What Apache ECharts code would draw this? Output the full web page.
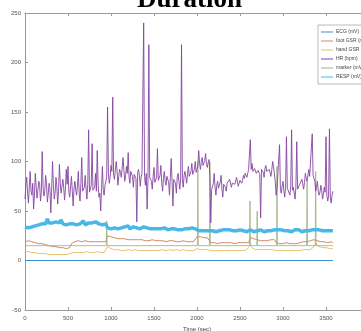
<!DOCTYPE html>
<html>
<head>
<meta charset="utf-8">
<script src="https://cdn.jsdelivr.net/npm/echarts@6/dist/echarts.min.js"></script>
<style>
  html, body { margin: 0; padding: 0; background: #fff; }
  #chart { width: 361px; height: 331px; }
</style>
</head>
<body>
<div id="chart"></div>
<script>
// signals recorded over the session, sampled every 20 s (t = 0 .. 3580)
var sampleStep = 20;
var seriesNames = ['ECG (mV)', 'foot GSR (mV)', 'hand GSR (mV)', 'HR (bpm)', 'marker (mV)', 'RESP (mV)'];
var colors = ['#3b8fd0', '#d08a6a', '#e9c06a', '#8445a0', '#9ab07a', '#48b8e8'];

// HR at t = 0, 20, 40 ...
var hr = [
  62, 84, 58, 90, 66, 52, 88, 63, 80, 60,
  110, 65, 86, 59, 78, 48, 100, 62, 84, 57,
  97, 68, 82, 61, 92, 95, 64, 85, 55, 80,
  66, 90, 60, 104, 70, 86, 62, 132, 68, 118,
  72, 88, 111, 64, 50, 95, 66, 80,
  155, 78, 96, 165, 82, 100, 76, 92, 84, 104,
  80, 95, 109, 78, 90, 74, 86, 39, 92, 75,
  88, 240, 76, 52, 218,
  84, 72, 94, 78, 113, 80, 96, 70, 90, 76,
  86, 66, 103, 55, 82, 68, 88, 72,
  218,
  74, 90, 78, 95, 84, 98, 86, 100, 92,
  111, 92, 104, 96, 108, 94, 102,
  38,
  70, 88, 66, 80, 72, 86, 64, 78, 70,
  76, 82, 74, 80, 77, 84, 75, 81, 78, 86,
  88, 84, 92,
  122,
  98, 88, 94, 86, 92, 43, 90, 84,
  96, 88, 92, 85, 100, 97,
  66,
  70, 117, 68, 80, 64, 125, 72, 66, 132, 74, 62, 120, 70,
  76, 82, 72, 88, 80, 92, 84, 128, 86,
  70, 80, 66, 76, 62, 74, 125, 60, 133, 58, 70
];
// HR at t = 10, 30, 50 ... (between the samples above)
var hrBetween = [
  76, 68, 74, 70, 78, 66, 75, 71, 77, 69,
  74, 70, 78, 67, 73, 71, 76, 68, 75, 70,
  78, 66, 74, 72, 77, 69, 75, 70, 73, 71,
  76, 68, 78, 70, 74, 72, 77, 69, 76, 71,
  74, 70, 78, 68, 73, 71, 76, 84,
  88, 84, 90, 86, 82, 92, 85, 89, 83, 91,
  86, 88, 84, 90, 85, 87, 83, 89, 86, 84,
  90, 85, 88, 80, 84,
  80, 85, 79, 84, 81, 86, 78, 83, 80, 85,
  79, 84, 80, 82, 78, 84, 80, 83,
  82, 86, 84, 88, 85, 90, 87, 92, 89, 96,
  98, 100, 96, 101, 97, 99, 85,
  72, 78, 74, 76, 73, 79, 72, 77, 74, 78,
  79, 81, 78, 80, 79, 82, 78, 80, 81, 83,
  86, 88, 94,
  92, 90, 93, 88, 91, 87, 92, 89, 93, 90, 91, 94, 92, 95, 80,
  72, 74, 72, 75, 71, 74, 73, 72, 75, 71, 73, 74, 72, 76,
  78, 80, 79, 83, 82, 85, 84, 86, 80,
  72, 70, 69, 71, 67, 69, 66, 65, 64, 66
];

var resp = [
  34, 35, 33, 35, 34, 36, 35, 37, 36, 38,
  37, 38, 37, 42, 38, 37, 38, 37, 39, 37,
  38, 41, 37, 38, 36, 38, 37, 38, 37, 38,
  36, 38, 37, 37, 40, 36, 37, 38, 37, 38,
  37, 39, 38, 37, 38, 36, 38, 37,
  33, 35, 32, 34, 33, 35, 32, 34, 33, 32,
  34, 33, 35, 32, 33, 34, 32, 33, 35, 32,
  33, 34, 32, 33, 34, 32, 33, 32, 34, 32,
  33, 32, 31, 33, 32, 31, 33, 32, 31, 32,
  33, 31, 32, 31, 33, 32, 31, 32, 31, 33,
  31, 32, 31, 30, 32, 30, 31, 30, 32, 30,
  31, 30, 31, 29, 31, 30, 29, 31, 30, 31,
  30, 31, 29, 30, 31, 30, 29, 31, 30, 30,
  31, 29, 30, 31, 30, 29, 31, 30, 30, 31,
  30, 29, 31, 30, 31, 30, 29, 31, 30, 31,
  30, 31, 29, 30, 31, 30, 31, 29, 30, 31,
  30, 31, 30, 29, 31, 30, 31, 30, 29, 31,
  30, 31, 30, 31, 29, 30, 31, 30, 31, 30,
  31, 30
];

var footGsr = [
  19, 19, 20, 19, 19, 18, 18, 18, 17, 17,
  17, 16, 16, 15, 15, 15, 14, 14, 14, 13,
  13, 13, 13, 12, 12, 13, 13, 17, 19, 19,
  19, 20, 19, 19, 19, 20, 19, 19, 19, 19,
  19, 19, 20, 19, 19, 19, 19, 19,
  25, 24, 24, 23, 23, 23, 22, 22, 22, 22,
  22, 21, 21, 22, 21, 21, 21, 21, 21, 21,
  21, 21, 20, 21, 20, 20, 21, 20, 20, 20,
  20, 20, 20, 20, 19, 20, 20, 19, 20, 20,
  19, 20, 19, 19, 20, 19, 19, 19, 19, 19,
  19, 19, 24, 24, 24, 23, 23, 23, 23, 23,
  18, 18, 18, 18, 17, 18, 18, 17, 18, 18,
  18, 17, 18, 18, 17, 18, 18, 17, 18, 18,
  18, 18, 18, 23, 22, 22, 21, 21, 21, 20,
  20, 20, 20, 20, 20, 21, 22, 21, 18, 17,
  17, 18, 17, 17, 18, 17, 17, 18, 17, 17,
  17, 18, 18, 18, 19, 19, 19, 20, 20, 21,
  21, 21, 20, 20, 19, 19, 19, 18, 18, 19,
  19, 18
];

var handGsr = [
  9, 9, 9, 8, 8, 8, 8, 8, 7, 7,
  7, 7, 7, 6, 6, 6, 6, 6, 6, 6,
  6, 6, 6, 6, 6, 7, 7, 8, 8, 8,
  8, 8, 8, 8, 8, 8, 9, 8, 8, 8,
  8, 8, 9, 8, 8, 9, 8, 9,
  14, 13, 12, 12, 11, 11, 11, 11, 10, 10,
  10, 10, 11, 10, 10, 10, 11, 10, 10, 10,
  10, 11, 10, 10, 10, 11, 10, 10, 10, 11,
  10, 10, 11, 10, 10, 10, 11, 10, 10, 10,
  11, 10, 10, 10, 11, 10, 10, 11, 10, 10,
  10, 10, 12, 12, 11, 11, 11, 11, 11, 11,
  10, 10, 10, 10, 10, 10, 10, 10, 10, 10,
  10, 10, 10, 10, 10, 10, 10, 10, 10, 10,
  10, 11, 13, 16, 13, 12, 11, 11, 11, 11,
  11, 11, 11, 11, 11, 11, 11, 11, 10, 10,
  10, 10, 10, 10, 10, 10, 10, 10, 10, 10,
  10, 10, 10, 11, 11, 11, 11, 11, 11, 12,
  14, 17, 16, 14, 13, 13, 12, 13, 12, 12,
  12, 12
];

// marker and ECG are stored sparsely
var markerTimes = [0, 945, 950, 955, 2005, 2010, 2015, 2145, 2150, 2155, 2611, 2616, 2621, 2695, 2700, 2705, 2925, 2930, 2935, 3275, 3280, 3285, 3375, 3380, 3385, 3580];
var markerValues = [15, 15, 40, 15, 15, 100, 15, 15, 100, 15, 15, 60, 15, 15, 50, 15, 15, 95, 15, 15, 80, 15, 15, 90, 15, 15];
var ecgTimes = [0, 3580];
var ecgValues = [0, 0];

function pairs(values) {
  var out = [];
  for (var i = 0; i < values.length; i++) {
    out.push([i * sampleStep, values[i]]);
  }
  return out;
}
// puts the two HR sample sets back in time order
function hrPairs() {
  var out = [];
  for (var i = 0; i < hr.length; i++) {
    out.push([i * sampleStep, hr[i]]);
    if (i < hrBetween.length) out.push([i * sampleStep + sampleStep / 2, hrBetween[i]]);
  }
  return out;
}
function zipTimes(times, values) {
  var out = [];
  for (var i = 0; i < times.length; i++) {
    out.push([times[i], values[i]]);
  }
  return out;
}

var chart = echarts.init(document.getElementById('chart'));

var axisColor = '#9a9a9a';
var labelStyle = { color: '#555', fontSize: 6, fontFamily: 'Liberation Sans' };
function plain(v) { return String(v); }

function lineSeries(name, data, color, width, z) {
  return {
    name: name,
    type: 'line',
    data: data,
    showSymbol: false,
    symbol: 'none',
    z: z,
    lineStyle: { color: color, width: width },
    itemStyle: { color: color }
  };
}

var option = {
  animation: false,
  backgroundColor: '#fff',
  color: colors,
  title: {
    text: 'Duration',
    left: 137,
    top: -13,
    padding: 0,
    textStyle: {
      fontFamily: 'Liberation Serif',
      fontWeight: 'bold',
      fontSize: 27,
      color: '#000'
    }
  },
  legend: {
    orient: 'vertical',
    left: 318,
    top: 25,
    padding: [4, 4, 4, 3],
    itemGap: 3,
    itemWidth: 12,
    itemHeight: 1,
    icon: 'rect',
    backgroundColor: '#fff',
    borderColor: '#aaa',
    borderWidth: 0.8,
    textStyle: { fontSize: 5, color: '#444', fontFamily: 'Liberation Sans', lineHeight: 6, padding: [0, 0, 0, -2] },
    data: seriesNames
  },
  grid: { left: 25, top: 13, width: 344, height: 297, containLabel: false, outerBoundsMode: 'none' },
  xAxis: [
    {
      type: 'value', min: 0, max: 4000, interval: 500,
      name: 'Time (sec)', nameLocation: 'middle', nameGap: 15,
      nameTextStyle: { fontSize: 6, color: '#444', fontFamily: 'Liberation Sans' },
      axisLine: { show: true, onZero: false, lineStyle: { color: axisColor, width: 1 } },
      axisTick: { show: true, inside: true, length: 3, lineStyle: { color: axisColor } },
      axisLabel: Object.assign({ margin: 5, formatter: plain }, labelStyle),
      splitLine: { show: false }
    },
    {
      type: 'value', position: 'top', min: 0, max: 4000, interval: 500,
      axisLine: { show: true, onZero: false, lineStyle: { color: axisColor, width: 1 } },
      axisTick: { show: true, inside: true, length: 3, lineStyle: { color: axisColor } },
      axisLabel: { show: false },
      splitLine: { show: false }
    }
  ],
  yAxis: [
    {
      type: 'value', min: -50, max: 250, interval: 50,
      axisLine: { show: true, onZero: false, lineStyle: { color: axisColor, width: 1 } },
      axisTick: { show: true, inside: true, length: 3, lineStyle: { color: axisColor } },
      axisLabel: Object.assign({ margin: 4, formatter: plain }, labelStyle),
      splitLine: { show: false }
    },
    {
      type: 'value', position: 'right', min: -50, max: 250, interval: 50,
      axisLine: { show: true, onZero: false, lineStyle: { color: axisColor, width: 1 } },
      axisTick: { show: true, inside: true, length: 3, lineStyle: { color: axisColor } },
      axisLabel: { show: false },
      splitLine: { show: false }
    }
  ],
  series: [
    lineSeries(seriesNames[0], zipTimes(ecgTimes, ecgValues), colors[0], 1, 2),
    lineSeries(seriesNames[1], pairs(footGsr), colors[1], 1, 3),
    lineSeries(seriesNames[2], pairs(handGsr), colors[2], 1, 3),
    lineSeries(seriesNames[3], hrPairs(), colors[3], 0.9, 5),
    lineSeries(seriesNames[4], zipTimes(markerTimes, markerValues), colors[4], 0.8, 4),
    lineSeries(seriesNames[5], pairs(resp), colors[5], 3.5, 4)
  ]
};

chart.setOption(option);
</script>
</body>
</html>
